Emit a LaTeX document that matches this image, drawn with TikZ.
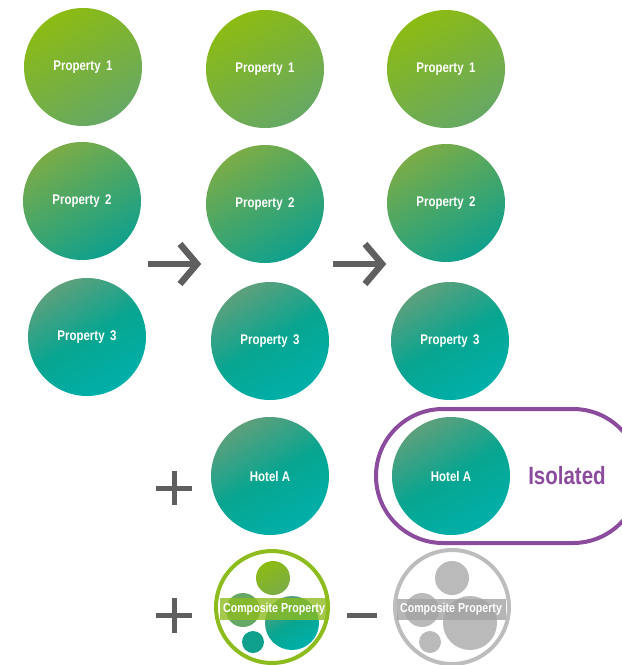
\documentclass[tikz,border=0pt]{standalone}
\usepackage{fontspec}
\newfontfamily\cond[FakeStretch=0.82]{Liberation Sans}
\definecolor{gA}{HTML}{8CBB13}
\definecolor{gB}{HTML}{66A865}
\definecolor{gC}{HTML}{7BAC47}
\definecolor{gD}{HTML}{0FA08D}
\definecolor{gE}{HTML}{5DA07C}
\definecolor{gF}{HTML}{08A590}
\definecolor{gG}{HTML}{00B0AA}
\definecolor{ringgreen}{HTML}{8DBC1F}
\definecolor{purp}{HTML}{8B4C9E}
\definecolor{icon}{HTML}{5F5F5F}
\definecolor{lgray}{HTML}{BDBDBD}
\definecolor{cgray}{HTML}{BABABA}
\definecolor{bgray}{HTML}{A3A3A3}
\begin{document}
\begin{tikzpicture}[x=1pt,y=-1pt,
  circ/.style={circle, minimum size=118pt, inner sep=0pt, text=white,
    font=\cond\bfseries\fontsize{14}{16}\selectfont},
  lvlA/.style={circ, top color=gA, bottom color=gB, shading angle=30},
  lvlB/.style={circ, top color=gC, bottom color=gD, shading angle=30},
  lvlC/.style={circ, top color=gE, bottom color=gG, middle color=gF, shading angle=30},
  iconline/.style={draw=icon, line width=6.5pt},
  smallc/.style={circle, inner sep=0pt},
  bandtext/.style={text=white, font=\cond\bfseries\fontsize{13}{15}\selectfont, inner sep=0pt}
]
\useasboundingbox (0,0) rectangle (622,665);
\clip (0,0) rectangle (622,665);

% column 1
\node[lvlA] (a1) at (83,67) {Property\, 1};
\node[lvlB] (a2) at (82,201) {Property\, 2};
\node[lvlC] (a3) at (87,337) {Property\, 3};
% column 2
\node[lvlA] (b1) at (265,69) {Property\, 1};
\node[lvlB] (b2) at (265,204) {Property\, 2};
\node[lvlC] (b3) at (270,341) {Property\, 3};
\node[lvlC] (b4) at (270,476) {Hotel A};
% column 3
\node[lvlA] (c1) at (446,69) {Property\, 1};
\node[lvlB] (c2) at (446,203) {Property\, 2};
\node[lvlC] (c3) at (450,341) {Property\, 3};
\node[lvlC] (c4) at (451,476) {Hotel A};

% isolated capsule
\draw[purp, line width=4pt, rounded corners=67pt] (376,409) rectangle (640,543);
\node[text=purp, font=\cond\bfseries\fontsize{25}{28}\selectfont] (iso) at (567,476) {Isolated};

% arrows
\draw[iconline] (148,264) -- (194,264);
\draw[iconline, miter limit=10] (180,244) -- (197,264) -- (180,284);
\draw[iconline] (333,264) -- (379,264);
\draw[iconline, miter limit=10] (365,244) -- (382,264) -- (365,284);

% plus / minus signs
\draw[draw=icon, line width=5pt] (156,488) -- (192,488) (174,471) -- (174,505);
\draw[draw=icon, line width=5pt] (156,615) -- (192,615) (174,598) -- (174,633);
\draw[draw=icon, line width=5pt] (347,615) -- (377,615);

% composite property (green)
\node[circle, draw=ringgreen, line width=4pt, minimum size=112pt, inner sep=0pt] (comp) at (272,607) {};
\node[smallc, minimum size=34pt, top color=gA, bottom color=gC, shading angle=30] (ct) at (273,578) {};
\node[smallc, minimum size=34pt, fill=gB] (cl) at (243,610) {};
\node[smallc, minimum size=54pt, top color=gE, bottom color=gG, middle color=gF, shading angle=30] (cb) at (292,623) {};
\node[smallc, minimum size=22pt, fill=gD] (cs) at (253,642) {};
\fill[ringgreen, opacity=0.8] (220,598) rectangle (328,620);
\node[bandtext] (ctext) at (274,609) {Composite Property};

% composite property (gray)
\node[circle, draw=lgray, line width=4pt, minimum size=114pt, inner sep=0pt] (gcomp) at (452,607) {};
\node[smallc, minimum size=34pt, fill=cgray] (gt) at (452,578) {};
\node[smallc, minimum size=34pt, fill=cgray] (gl) at (422,610) {};
\node[smallc, minimum size=54pt, fill=cgray] (gb) at (470,623) {};
\node[smallc, minimum size=22pt, fill=cgray] (gs) at (430,642) {};
\fill[bgray, opacity=0.8] (397,599) rectangle (506,620);
\node[bandtext] (gtext) at (451,609) {Composite Property};
\end{tikzpicture}
\end{document}
